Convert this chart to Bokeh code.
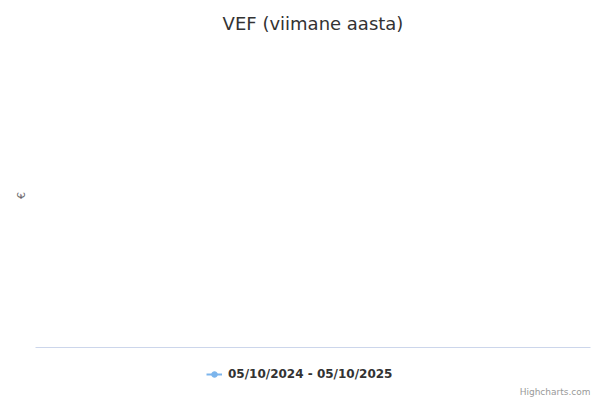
from bokeh.plotting import figure
from bokeh.layouts import column
from bokeh.models import Legend, LegendItem, Label, Range1d, FixedTicker, ColumnDataSource
from bokeh.embed import file_html
from bokeh.resources import INLINE

# Data (the series is empty in the reference)
series_name = "05/10/2024 - 05/10/2025"
dates = []
prices = []
title_text = "VEF (viimane aasta)"
y_label = "€"
credits = "Highcharts.com"

FONT = "DejaVu Sans"
COLOR = "#7cb5ec"

p = figure(width=600, height=357, output_backend="svg", toolbar_location=None,
           x_range=Range1d(0, 1), y_range=Range1d(0, 1),
           min_border_left=35, min_border_right=10, min_border_bottom=10, min_border_top=0)
p.outline_line_color = None
p.xgrid.visible = False
p.ygrid.visible = False

p.title.text = title_text
p.title.align = "center"
p.title.text_font = FONT
p.title.text_font_size = "18px"
p.title.text_font_style = "normal"
p.title.text_color = "#333333"
p.title.standoff = 20

# axes
p.xaxis.ticker = FixedTicker(ticks=[])
p.xaxis.axis_line_color = "#ccd6eb"
p.xaxis.major_tick_line_color = None
p.xaxis.minor_tick_line_color = None
p.yaxis.ticker = FixedTicker(ticks=[])
p.yaxis.axis_line_color = None
p.yaxis.major_tick_line_color = None
p.yaxis.minor_tick_line_color = None
p.yaxis.axis_label = y_label
p.yaxis.axis_label_text_font = FONT
p.yaxis.axis_label_text_font_size = "11px"
p.yaxis.axis_label_text_font_style = "normal"
p.yaxis.axis_label_text_color = "#666666"
p.yaxis.axis_label_standoff = 8

# the (empty) series
src = ColumnDataSource(dict(x=dates, y=prices))
p.line("x", "y", source=src, line_color=COLOR, line_width=2)
p.scatter("x", "y", source=src, fill_color=COLOR, line_color=COLOR, size=8)

# footer: legend and credits (frame is aligned with the chart's frame: 35..590 px)
f = figure(width=600, height=43, output_backend="svg", toolbar_location=None,
           x_range=Range1d(35, 590), y_range=Range1d(0, 43),
           min_border=0, min_border_left=0, min_border_right=0,
           min_border_top=0, min_border_bottom=0)
f.outline_line_color = None
f.axis.visible = False
f.grid.visible = False

# legend proxies (no visible data, only used to draw the legend symbol)
proxy = ColumnDataSource(dict(x=[float("nan")], y=[float("nan")]))
l_line = f.line("x", "y", source=proxy, line_color=COLOR, line_width=2)
l_pt = f.scatter("x", "y", source=proxy, fill_color=COLOR, line_color=COLOR, size=8)

legend = Legend(items=[LegendItem(label=series_name, renderers=[l_line, l_pt])],
                location=(171, 19), orientation="horizontal",
                label_text_font=FONT, label_text_font_size="12px",
                label_text_font_style="bold", label_text_color="#333333",
                border_line_color=None, background_fill_alpha=0,
                glyph_width=16, glyph_height=14, label_standoff=6, padding=0, margin=0)
f.add_layout(legend, "center")

f.add_layout(Label(x=590, y=9, text=credits, text_align="right", text_baseline="middle",
                   text_font=FONT, text_font_size="9px", text_color="#999999"))

layout = column(p, f, spacing=0)
open("out.html", "w").write(file_html(layout, INLINE))
